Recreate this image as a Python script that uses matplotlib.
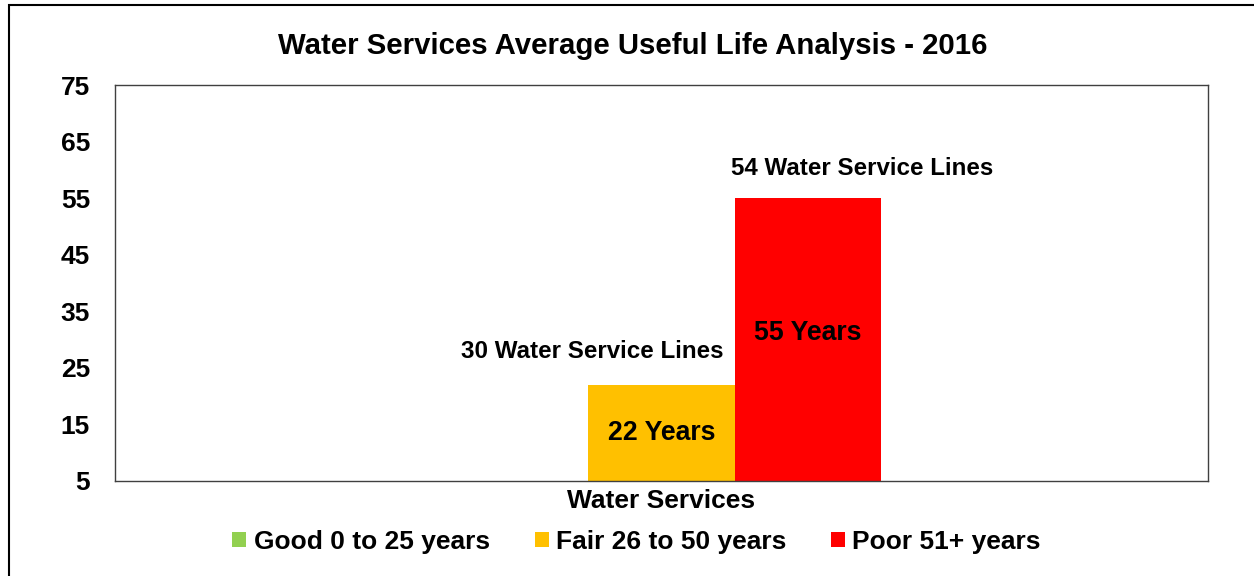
import matplotlib
matplotlib.use("Agg")
import matplotlib.pyplot as plt
from matplotlib.patches import Patch, Rectangle

# ---------------- DATA ----------------
categories = ["Water Services"]
series_names = ["Good 0 to 25 years", "Fair 26 to 50 years", "Poor 51+ years"]
avg_years = [0, 22, 55]
bar_labels = ["", "22 Years", "55 Years"]
line_labels = ["", "30 Water Service Lines", "54 Water Service Lines"]
series_colors = ["#92D050", "#FFC000", "#FF0000"]
y_ticks = [5, 15, 25, 35, 45, 55, 65, 75]
title = "Water Services Average Useful Life Analysis - 2016"
# --------------------------------------

plt.rcParams["font.family"] = ["Liberation Sans", "DejaVu Sans"]
plt.rcParams["font.weight"] = "bold"

W, H = 1254, 576
fig = plt.figure(figsize=(W / 100, H / 100), dpi=100)
ax = fig.add_axes([115 / W, 1 - 481 / H, (1208 - 115) / W, (481 - 85) / H])

bar_w = 0.1336
offsets = [-bar_w, 0, bar_w]
label_shift = [(0, 0), (-69, 36), (55, 32)]  # pixels, for the manual line-count labels

for i, (name, val, col) in enumerate(zip(series_names, avg_years, series_colors)):
    x = 0 + offsets[i]
    ax.bar(x, val, width=bar_w, color=col, label=name, zorder=2)
    if bar_labels[i]:
        # label sits roughly mid-way up the visible part of the bar
        ax.text(x, y_ticks[0] + 0.535 * (val - y_ticks[0]), bar_labels[i], ha="center",
                va="center_baseline", fontsize=19.2, fontweight="bold")
    if line_labels[i]:
        dx, dy = label_shift[i]
        ax.annotate(line_labels[i], xy=(x, val), xytext=(dx, dy), textcoords="offset pixels",
                    ha="center", va="center_baseline", fontsize=17.4, fontweight="bold")

ax.set_xlim(-0.5, 0.5)
ax.set_ylim(y_ticks[0], y_ticks[-1])
ax.set_yticks(y_ticks)
ax.set_xticks([0])
ax.set_xticklabels(categories)
ax.tick_params(axis="y", length=0, pad=18, labelsize=19)
ax.tick_params(axis="x", length=0, pad=6, labelsize=19)
for s in ax.spines.values():
    s.set_color("#404040")
    s.set_linewidth(1.0)

fig.text(632.5 / W, 1 - 43 / H, title, ha="center", va="center_baseline",
         fontsize=21.2, fontweight="bold")

handles = [Patch(facecolor=c, edgecolor="none") for c in series_colors]
fig.legend(handles, series_names, loc="center", bbox_to_anchor=(636.5 / W, 34 / H),
           ncol=3, frameon=False, fontsize=19, handlelength=0.53, handleheight=0.53,
           handletextpad=0.27, columnspacing=1.7, borderpad=0, borderaxespad=0)

# outer chart border (runs off the right and bottom of the picture)
fig.patches.append(Rectangle((9 / W, -0.2), 1.2, 1.2 - 5 / H, transform=fig.transFigure,
                             fill=False, edgecolor="black", linewidth=1.5, figure=fig))

fig.savefig("out.png", dpi=100)
